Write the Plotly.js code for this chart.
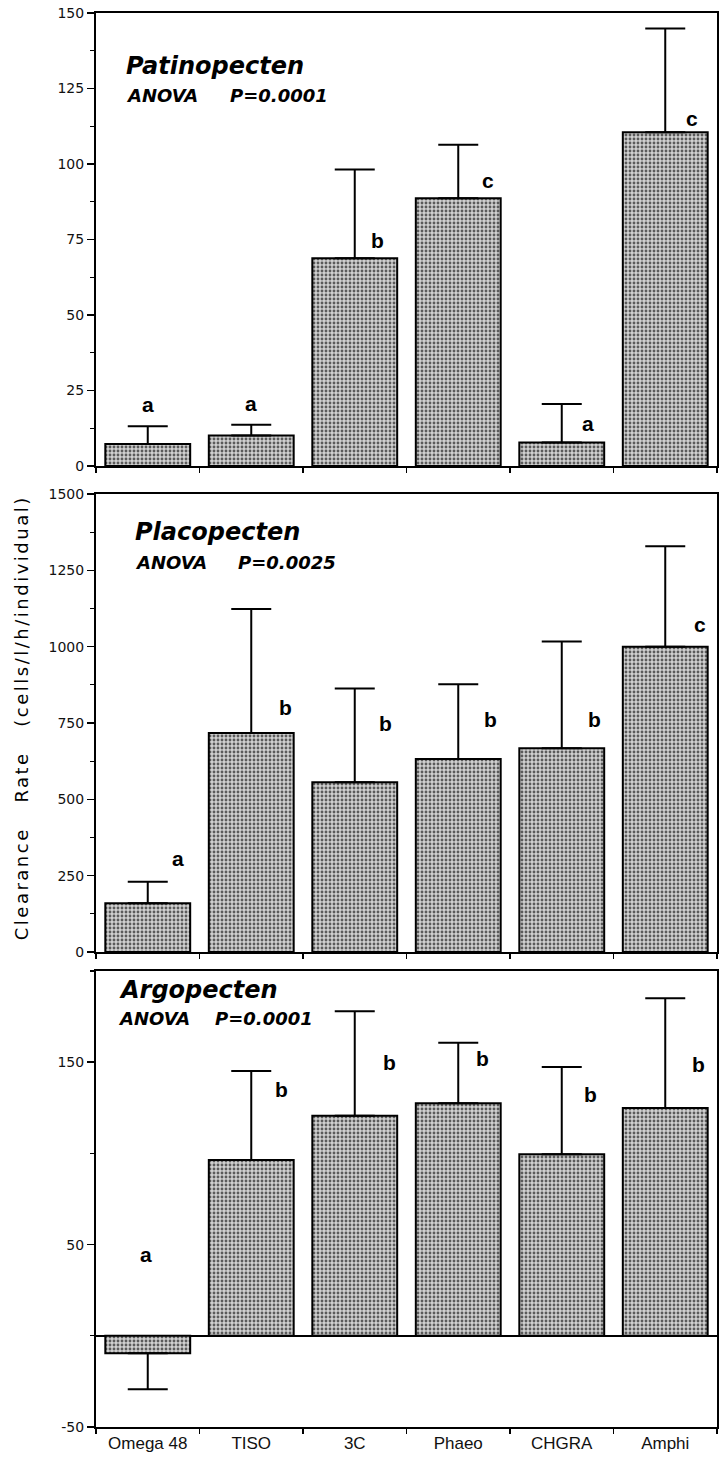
<!DOCTYPE html>
<html>
<head>
<meta charset="utf-8">
<script src="https://cdn.plot.ly/plotly-3.0.1.min.js"></script>
<style>
  html, body { margin: 0; padding: 0; background: #fff; }
  #chart { width: 722px; height: 1470px; }
</style>
</head>
<body>
<div id="chart"></div>
<script>
// ---------- data ----------
const categories = ['Omega 48', 'TISO', '3C', 'Phaeo', 'CHGRA', 'Amphi'];

const patinoMean = [7.3, 10.1, 68.8, 88.7, 7.8, 110.5];
const patinoSE   = [5.9, 3.6, 29.4, 17.7, 12.7, 34.4];
const patinoLetters = ['a', 'a', 'b', 'c', 'a', 'c'];

const placoMean = [160, 717, 556, 632, 667, 1000];
const placoSE   = [70, 406, 307, 245, 350, 329];
const placoLetters = ['a', 'b', 'b', 'b', 'b', 'c'];

const argoMean = [-9.6, 96.4, 120.7, 127.5, 99.6, 124.9];
const argoSE   = [19.7, 48.8, 57.2, 33.1, 47.8, 60.2];
const argoLetters = ['a', 'b', 'b', 'b', 'b', 'b'];

const panelTitles = ['Patinopecten', 'Placopecten', 'Argopecten'];
const anovaP = ['P=0.0001', 'P=0.0025', 'P=0.0001'];
const yTitle = 'Clearance\u00A0\u00A0\u00A0Rate\u00A0\u00A0\u00A0(cells/l/h/individual)';

// ---------- layout helpers (positions, not data) ----------
const patinoLetterY = [20.5, 20.7, 74.8, 94.6, 14, 115];
const patinoLetterDx = [0, 0, 23, 30, 26, 27];
const placoLetterY = [305, 801, 750, 761, 761, 1074];
const placoLetterDx = [30, 34, 31, 32, 33, 35];
const argoLetterY = [44.6, 135, 150, 152, 132.5, 149];
const argoLetterDx = [-2, 30, 35, 24, 29, 33];

const W = 722, H = 1470;
const mL = 96, mR = 5, mT = 13, mB = 43;
const plotW = W - mL - mR, plotH = H - mT - mB;
const px2x = px => (px - mL) / plotW;
const py2y = py => (H - mB - py) / plotH;

function barTrace(means, se, xa, ya) {
  return {
    type: 'bar',
    x: categories,
    y: means,
    xaxis: xa, yaxis: ya,
    marker: {
      color: '#bdbdbd',
      line: { color: '#000', width: 2 },
      pattern: { shape: '.', fgcolor: '#5a5a5a', bgcolor: '#d0d0d0', size: 4, solidity: 0.4 }
    },
    error_y: {
      type: 'data',
      symmetric: false,
      array: means.map((m, i) => m >= 0 ? se[i] : 0),
      arrayminus: means.map((m, i) => m < 0 ? se[i] : 0),
      color: '#000',
      thickness: 2,
      width: 20
    },
    hoverinfo: 'skip',
    showlegend: false
  };
}

const data = [
  barTrace(patinoMean, patinoSE, 'x', 'y'),
  barTrace(placoMean, placoSE, 'x2', 'y2'),
  barTrace(argoMean, argoSE, 'x3', 'y3')
];

const tickFont = { family: 'DejaVu Sans', size: 14, color: '#111' };

function xAxis(anchor, showLabels) {
  return {
    type: 'category',
    categoryorder: 'array',
    categoryarray: categories,
    anchor: anchor,
    showline: true, linecolor: '#000', linewidth: 2, mirror: true,
    ticks: 'outside', ticklen: 5, tickwidth: 1.5, tickcolor: '#000',
    tickson: 'boundaries',
    showticklabels: showLabels,
    tickfont: { family: 'Liberation Sans, Arial', size: 17, color: '#111' },
    showgrid: false, zeroline: false, fixedrange: true
  };
}

function yAxis(anchor, domain, range, tickvals, minorDtick, zeroline) {
  return {
    anchor: anchor,
    domain: domain,
    range: range,
    tickmode: 'array',
    tickvals: tickvals,
    ticktext: tickvals.map(String),
    showline: true, linecolor: '#000', linewidth: 2, mirror: true,
    ticks: 'outside', ticklen: 7, tickwidth: 1.5, tickcolor: '#000',
    minor: { ticks: 'outside', ticklen: 4, tickwidth: 1.2, tickcolor: '#000', dtick: minorDtick, tick0: 0, showgrid: false },
    tickfont: tickFont,
    showgrid: false,
    zeroline: zeroline, zerolinecolor: '#000', zerolinewidth: 2,
    fixedrange: true
  };
}

const d1 = [py2y(466), 1];
const d2 = [py2y(952), py2y(494)];
const d3 = [0, py2y(971)];

const annotations = [];
function addLetters(letters, ys, dxs, xa, ya) {
  letters.forEach((t, i) => {
    annotations.push({
      x: categories[i], y: ys[i], xref: xa, yref: ya,
      text: t, showarrow: false, xshift: dxs[i],
      xanchor: 'center', yanchor: 'middle',
      font: { family: 'Liberation Sans, Arial', size: 21, weight: 'bold', color: '#000' }
    });
  });
}
addLetters(patinoLetters, patinoLetterY, patinoLetterDx, 'x', 'y');
addLetters(placoLetters, placoLetterY, placoLetterDx, 'x2', 'y2');
addLetters(argoLetters, argoLetterY, argoLetterDx, 'x3', 'y3');

const titlePos = [
  { tx: 124, ty: 66, ax: 124, pxp: 228, ay: 96 },
  { tx: 133, ty: 532, ax: 133, pxp: 236, ay: 562 },
  { tx: 117, ty: 990, ax: 116, pxp: 213, ay: 1018 }
];
const titleFont = { family: 'DejaVu Sans', size: 24, weight: 'bold', style: 'italic', color: '#000' };
const anovaFont = { family: 'DejaVu Sans', size: 18, weight: 'bold', style: 'italic', color: '#000' };
panelTitles.forEach((t, i) => {
  const p = titlePos[i];
  annotations.push({ x: px2x(p.tx), y: py2y(p.ty), xref: 'paper', yref: 'paper', text: t,
    showarrow: false, xanchor: 'left', yanchor: 'middle', font: titleFont });
  annotations.push({ x: px2x(p.ax), y: py2y(p.ay), xref: 'paper', yref: 'paper', text: 'ANOVA',
    showarrow: false, xanchor: 'left', yanchor: 'middle', font: anovaFont });
  annotations.push({ x: px2x(p.pxp), y: py2y(p.ay), xref: 'paper', yref: 'paper', text: anovaP[i],
    showarrow: false, xanchor: 'left', yanchor: 'middle', font: anovaFont });
});

annotations.push({
  x: px2x(22), y: py2y(718), xref: 'paper', yref: 'paper',
  text: yTitle, textangle: -90, showarrow: false,
  xanchor: 'center', yanchor: 'middle',
  font: { family: 'DejaVu Sans', size: 18, color: '#000' }
});

const layout = {
  width: W, height: H,
  margin: { l: mL, r: mR, t: mT, b: mB },
  paper_bgcolor: '#fff', plot_bgcolor: '#fff',
  bargap: 0.18,
  showlegend: false,
  xaxis: xAxis('y', false),
  xaxis2: xAxis('y2', false),
  xaxis3: xAxis('y3', true),
  yaxis: yAxis('x', d1, [0, 150], [0, 25, 50, 75, 100, 125, 150], 12.5, false),
  yaxis2: yAxis('x2', d2, [0, 1500], [0, 250, 500, 750, 1000, 1250, 1500], 125, false),
  yaxis3: yAxis('x3', d3, [-50, 200], [-50, 50, 150], 50, true),
  annotations: annotations
};

Plotly.newPlot('chart', data, layout, { displayModeBar: false, staticPlot: true }).then(() => {
  document.querySelectorAll('.annotation-text').forEach(el => {
    if (el.textContent.indexOf('Clearance') === 0) {
      el.style.letterSpacing = '2.5px';
    }
  });
});
</script>
</body>
</html>
